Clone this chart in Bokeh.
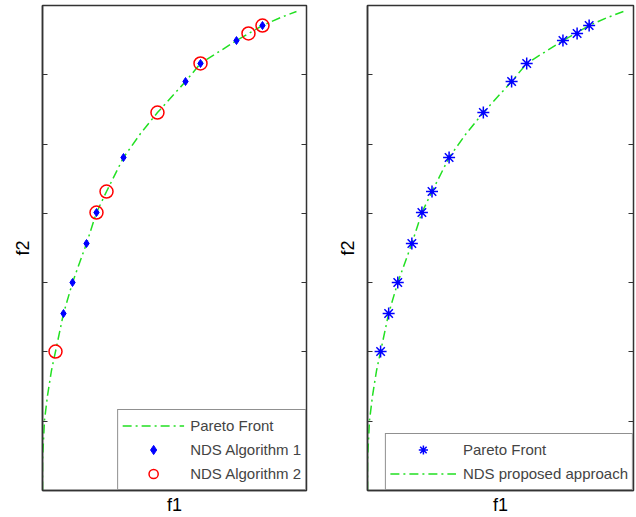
from bokeh.plotting import figure
from bokeh.layouts import row
from bokeh.models import LinearAxis, Legend, LegendItem, FixedTicker, Range1d
from bokeh.embed import file_html
from bokeh.resources import INLINE

# Pareto front curve
front_f1 = [0.0, 0.0, 0.015, 0.03, 0.076, 0.136, 0.197, 0.318, 0.455, 0.667, 0.818, 0.970,
            1.227, 1.485, 1.742, 2.167, 2.394, 2.939, 3.333, 3.606, 3.848]
front_f2 = [0.0, 0.433, 0.722, 1.01, 1.371, 1.732, 2.006, 2.554, 3.002, 3.565, 4.012, 4.315,
            4.806, 5.152, 5.455, 5.903, 6.163, 6.494, 6.711, 6.826, 6.913]

# NDS Algorithm 1
alg1_f1 = [3.333, 2.939, 2.394, 2.167, 1.227, 0.818, 0.667, 0.455, 0.318]
alg1_f2 = [6.711, 6.494, 6.163, 5.903, 4.806, 4.012, 3.565, 3.002, 2.554]

# NDS Algorithm 2
alg2_f1 = [3.333, 3.121, 2.394, 1.742, 0.970, 0.818, 0.197]
alg2_f2 = [6.711, 6.596, 6.163, 5.455, 4.315, 4.012, 2.006]

# Proposed approach
prop_f1 = [3.333, 3.152, 2.939, 2.394, 2.167, 1.742, 1.227, 0.970, 0.818, 0.667, 0.455, 0.318, 0.197]
prop_f2 = [6.711, 6.596, 6.494, 6.163, 5.903, 5.455, 4.806, 4.315, 4.012, 3.565, 3.002, 2.554, 2.006]

y_ticks = [1, 2, 3, 4, 5, 6]

GREEN = "#22e022"
FONT = "Liberation Sans"
DASH = "9 4 2 4"


def make_fig(width, border_left, border_right):
    p = figure(width=width, height=517, output_backend="svg", toolbar_location=None,
               x_range=Range1d(0, 4), y_range=Range1d(0, 7),
               min_border_left=border_left, min_border_right=border_right,
               min_border_top=5, min_border_bottom=27,
               background_fill_color="white", border_fill_color="white")
    p.grid.visible = False
    p.outline_line_color = "#333333"
    p.outline_line_width = 1.5
    p.xaxis.ticker = FixedTicker(ticks=[])
    p.xaxis.axis_label = "f1"
    p.yaxis.axis_label = "f2"
    p.yaxis.ticker = FixedTicker(ticks=y_ticks)
    p.yaxis.major_label_overrides = {t: "" for t in y_ticks}
    for ax in (p.xaxis[0], p.yaxis[0]):
        ax.axis_line_color = "#333333"
        ax.axis_line_width = 1.5
        ax.major_tick_in = 5
        ax.major_tick_out = 0
        ax.minor_tick_line_color = None
        ax.major_tick_line_color = "#333333"
        ax.axis_label_text_font = FONT
        ax.axis_label_text_font_style = "normal"
        ax.axis_label_text_font_size = "18px"
        ax.axis_label_text_color = "black"
    p.xaxis.axis_label_standoff = 4
    p.yaxis.axis_label_standoff = 10
    r_ax = LinearAxis(ticker=FixedTicker(ticks=y_ticks),
                      major_label_overrides={t: "" for t in y_ticks},
                      major_tick_in=5, major_tick_out=0, minor_tick_line_color=None,
                      axis_line_color=None, major_tick_line_color="#333333",
                      major_label_standoff=0)
    p.add_layout(r_ax, "right")
    return p


# Left panel
p1 = make_fig(316, 42, 10)
l_front = p1.line(front_f1, front_f2, line_color=GREEN, line_width=1.5, line_dash=DASH)
l_alg1 = p1.scatter(alg1_f1, alg1_f2, marker="diamond", size=8,
                    fill_color="blue", line_color="blue")
l_alg2 = p1.scatter(alg2_f1, alg2_f2, marker="circle", size=13, fill_color=None,
                    line_color="red", line_width=1.5)
leg1 = Legend(items=[LegendItem(label="Pareto Front", renderers=[l_front]),
                     LegendItem(label="NDS Algorithm 1", renderers=[l_alg1]),
                     LegendItem(label="NDS Algorithm 2", renderers=[l_alg2])],
              location="bottom_right", margin=0, padding=4, spacing=1,
              glyph_width=62, glyph_height=23, label_height=23, label_standoff=6,
              label_text_font=FONT, label_text_font_size="15px",
              border_line_color="#222222", border_line_width=1.2,
              background_fill_color="white", background_fill_alpha=1)
p1.add_layout(leg1, "center")

# Right panel
p2 = make_fig(320, 51, 3)
r_front = p2.line(front_f1, front_f2, line_color=GREEN, line_width=1.5, line_dash=DASH)
r_prop = p2.scatter(prop_f1, prop_f2, marker="asterisk", size=12, line_color="blue",
                    line_width=1.5)
p2.scatter(prop_f1, prop_f2, marker="circle", size=3, fill_color="blue", line_color="blue")
leg2 = Legend(items=[LegendItem(label="Pareto Front", renderers=[r_prop]),
                     LegendItem(label="NDS proposed approach", renderers=[r_front])],
              location="bottom_right", margin=0, padding=4, spacing=1,
              glyph_width=66, glyph_height=23, label_height=23, label_standoff=7,
              label_text_font=FONT, label_text_font_size="15px",
              border_line_color="#222222", border_line_width=1.2,
              background_fill_color="white", background_fill_alpha=1)
p2.add_layout(leg2, "center")

layout = row(p1, p2)
open("out.html", "w").write(file_html(layout, INLINE))
